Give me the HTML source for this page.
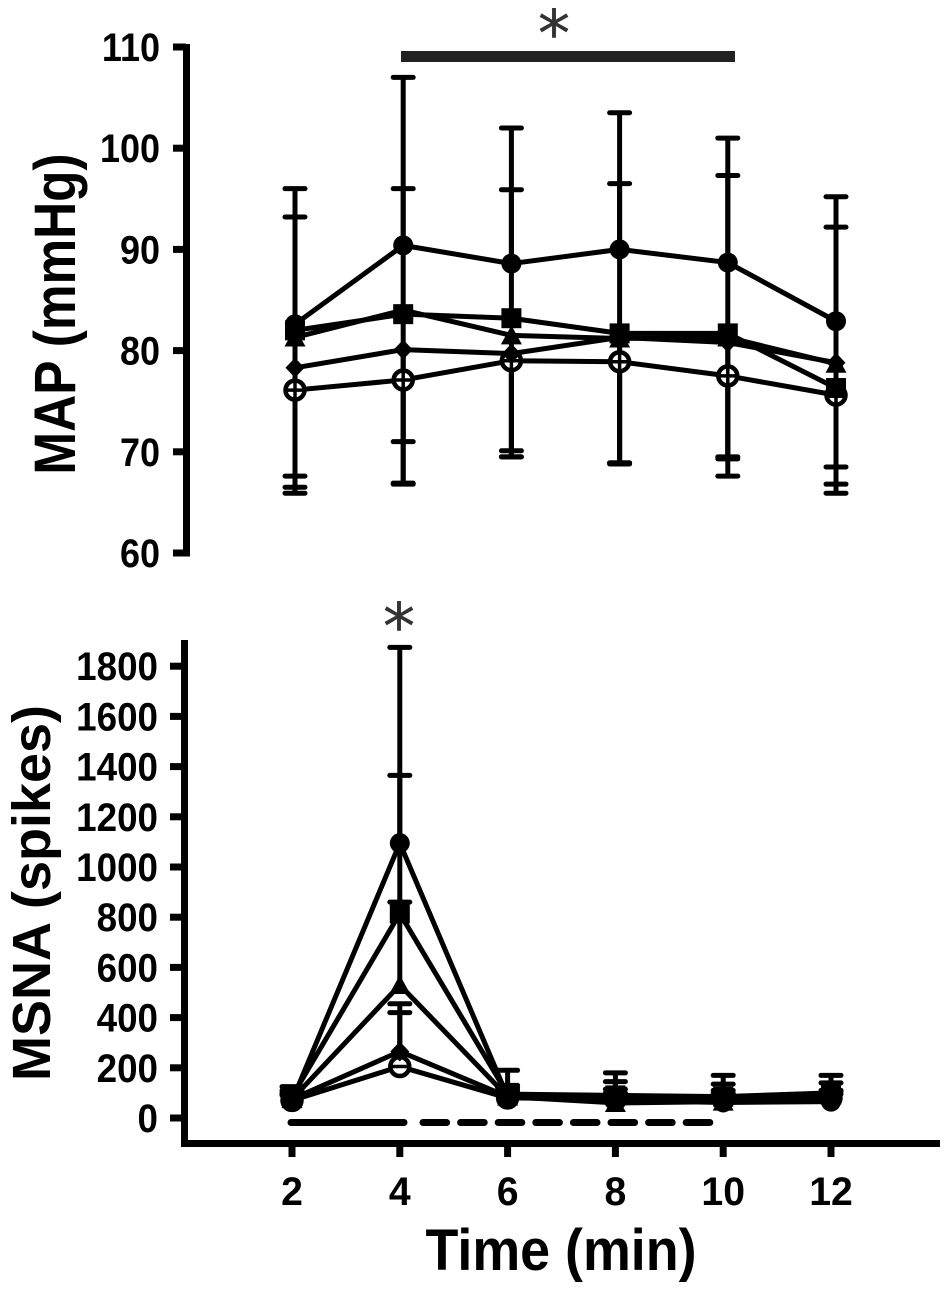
<!DOCTYPE html>
<html lang="en">
<head>
<meta charset="utf-8">
<title>MAP and MSNA over time</title>
<style>
html,body{margin:0;padding:0;background:#fff;}
svg{display:block;font-family:"Liberation Sans",Arial,sans-serif;font-weight:bold;}
</style>
</head>
<body>
<svg id="chart" width="950" height="1294" viewBox="0 0 950 1294" xmlns="http://www.w3.org/2000/svg">
  <rect width="950" height="1294" fill="#fff"/>
  <text transform="translate(75,314) rotate(-90) scale(0.885,1)" text-anchor="middle" font-size="58">MAP (mmHg)</text>
  <text transform="translate(50,893) rotate(-90)" text-anchor="middle" font-size="54">MSNA (spikes)</text>
  <text transform="translate(561,1270) scale(0.928,1)" text-anchor="middle" font-size="58">Time (min)</text>
  <rect x="401" y="51" width="334" height="11" fill="#222"/>
  <text x="554" y="56" text-anchor="middle" font-size="64" font-weight="normal" fill="#333" stroke="#333" stroke-width="0.4" style="font-family:'DejaVu Sans',sans-serif">*</text>
  <text x="399" y="649" text-anchor="middle" font-size="64" font-weight="normal" fill="#333" stroke="#333" stroke-width="0.4" style="font-family:'DejaVu Sans',sans-serif">*</text>
  <line x1="291" y1="1122.5" x2="404" y2="1122.5" stroke="#000" stroke-width="7" stroke-linecap="round"/>
  <line x1="423" y1="1122.5" x2="710" y2="1122.5" stroke="#000" stroke-width="7" stroke-linecap="round" stroke-dasharray="23.6 14"/>
  <g id="plot"></g>
</svg>
<script>
var times = [2, 4, 6, 8, 10, 12];
var mapTicks = [60, 70, 80, 90, 100, 110];
var msnaTicks = [0, 200, 400, 600, 800, 1000, 1200, 1400, 1600, 1800];

var mapCircle = [82.6, 90.4, 88.6, 90.0, 88.7, 82.9];
var mapSquare = [82.0, 83.6, 83.2, 81.7, 81.7, 76.3];
var mapTriangle = [81.3, 84.0, 81.5, 81.2, 81.3, 78.7];
var mapDiamond = [78.3, 80.1, 79.7, 81.3, 80.8, 78.8];
var mapOpen = [76.1, 77.1, 79.0, 78.9, 77.5, 75.6];

var mapCircleUpper = [96.0, 107.0, 102.0, 103.5, 101.0, 95.2];
var mapSquareUpper = [93.2, 96.0, 95.9, 96.5, 97.3, 92.2];
var mapDiamondLower = [67.6, 71.0, 70.1, 68.9, 69.5, 68.5];
var mapTriangleLower = [66.5, 66.9, 69.5, 68.9, 69.3, 66.8];
var mapOpenLower = [65.9, 66.8, 69.5, 68.8, 67.6, 65.9];

var msnaCircle = [68, 1095, 85, 70, 62, 65];
var msnaSquare = [85, 815, 95, 90, 85, 100];
var msnaTriangle = [75, 530, 85, 60, 65, 90];
var msnaDiamond = [75, 265, 85, 70, 70, 90];
var msnaOpen = [70, 205, 80, 75, 75, 80];

var msnaCircleUpper = [125, 1875, 190, 180, 170, 170];
var msnaSquareUpper = [110, 1365, 130, 145, 135, 140];
var msnaTriangleUpper = [100, 860, 120, 115, 110, 110];
var msnaDiamondUpper = [95, 455, 110, 100, 100, 105];
var msnaOpenUpper = [90, 420, 100, 95, 95, 95];

var SVGNS = 'http://www.w3.org/2000/svg';
var plot = document.getElementById('plot');

function xMap(t) { return 295 + (t - 2) * 54.1; }
function xMsna(t) { return 292 + (t - 2) * 53.9; }
function yMap(v) { return 553 - (v - 60) * 10.12; }
function yMsna(v) { return 1118 - v * 0.251; }

function make(tag, attrs) {
  var el = document.createElementNS(SVGNS, tag);
  for (var k in attrs) { el.setAttribute(k, attrs[k]); }
  plot.appendChild(el);
  return el;
}

function errorBar(x, from, to) {
  var stem = make('line', {x1: x, y1: from, x2: x, y2: to, stroke: '#000', 'stroke-width': 5});
  
  
  var cap = make('line', {x1: x - 10, y1: to, x2: x + 10, y2: to, stroke: '#000', 'stroke-width': 5, 'stroke-linecap': 'round'});
  
  
}

function seriesLine(values, xFn, yFn) {
  var pts = values.map(function (v, i) { return xFn(times[i]) + ',' + yFn(v); }).join(' ');
  var line = make('polyline', {points: pts, fill: 'none', stroke: '#000', 'stroke-width': 5, 'stroke-linejoin': 'round'});
  
  
}

function marker(kind, x, y, fullCross) {
  var el;
  if (kind === 'circle') {
    el = make('circle', {cx: x, cy: y, r: 10, fill: '#000'});
  } else if (kind === 'square') {
    el = make('rect', {x: x - 10, y: y - 10, width: 20, height: 20, fill: '#000'});
  } else if (kind === 'triangle') {
    el = make('polygon', {points: x + ',' + (y - 10) + ' ' + (x + 10.5) + ',' + (y + 9) + ' ' + (x - 10.5) + ',' + (y + 9), fill: '#000'});
  } else if (kind === 'diamond') {
    el = make('polygon', {points: x + ',' + (y - 10) + ' ' + (x + 9.5) + ',' + y + ' ' + x + ',' + (y + 10) + ' ' + (x - 9.5) + ',' + y, fill: '#000'});
  } else {
    el = make('circle', {cx: x, cy: y, r: 9.5, fill: '#fff', stroke: '#000', 'stroke-width': 4.5});
    var d = 'M' + (x - 9) + ' ' + y + 'H' + (x + 9);
    if (fullCross) { d += 'M' + x + ' ' + (y - 9) + 'V' + (y + 9); }
    var cross = make('path', {d: d, stroke: '#000', 'stroke-width': 3.5});
    
    
  }
  
  
}

function drawSeries(kind, values, xFn, yFn, fullCross) {
  seriesLine(values, xFn, yFn);
  values.forEach(function (v, i) { marker(kind, xFn(times[i]), yFn(v), fullCross); });
}

function drawErrors(values, limits, xFn, yFn) {
  values.forEach(function (v, i) { errorBar(xFn(times[i]), yFn(v), yFn(limits[i])); });
}

function axisLine(name, x1, y1, x2, y2) {
  var el = make('line', {x1: x1, y1: y1, x2: x2, y2: y2, stroke: '#000', 'stroke-width': 7});
  
  
}

function tickLabel(name, x, y, anchor, label, widthScale) {
  var el = make('text', {transform: 'translate(' + x + ',' + y + ') scale(' + widthScale + ',1)', 'text-anchor': anchor, 'font-size': 40});
  el.textContent = label;
  
  
}

/* MAP panel axes */
axisLine('map-y-axis', 186.5, 44, 186.5, 556.5);
mapTicks.forEach(function (v) {
  axisLine('map-y-tick', 173, yMap(v), 186, yMap(v));
  tickLabel('map-y-tick-label', 160, yMap(v) + 14, 'end', String(v), 0.9);
});

/* MSNA panel axes */
axisLine('msna-y-axis', 184.5, 640, 184.5, 1147);
axisLine('x-axis', 181, 1143.5, 940, 1143.5);
msnaTicks.forEach(function (v) {
  axisLine('msna-y-tick', 170, yMsna(v), 184, yMsna(v));
  tickLabel('msna-y-tick-label', 158, yMsna(v) + 14, 'end', String(v), 0.92);
});
times.forEach(function (t) {
  axisLine('x-tick', xMsna(t), 1143, xMsna(t), 1157);
  tickLabel('x-tick-label', xMsna(t), 1205, 'middle', String(t), 0.98);
});

/* MAP panel data */
drawErrors(mapCircle, mapCircleUpper, xMap, yMap);
drawErrors(mapSquare, mapSquareUpper, xMap, yMap);
drawErrors(mapDiamond, mapDiamondLower, xMap, yMap);
drawErrors(mapTriangle, mapTriangleLower, xMap, yMap);
drawErrors(mapOpen, mapOpenLower, xMap, yMap);
drawSeries('open', mapOpen, xMap, yMap, true);
drawSeries('diamond', mapDiamond, xMap, yMap, true);
drawSeries('triangle', mapTriangle, xMap, yMap, true);
drawSeries('square', mapSquare, xMap, yMap, true);
drawSeries('circle', mapCircle, xMap, yMap, true);

/* MSNA panel data */
drawErrors(msnaCircle, msnaCircleUpper, xMsna, yMsna);
drawErrors(msnaSquare, msnaSquareUpper, xMsna, yMsna);
drawErrors(msnaTriangle, msnaTriangleUpper, xMsna, yMsna);
drawErrors(msnaDiamond, msnaDiamondUpper, xMsna, yMsna);
drawErrors(msnaOpen, msnaOpenUpper, xMsna, yMsna);
drawSeries('open', msnaOpen, xMsna, yMsna, false);
drawSeries('diamond', msnaDiamond, xMsna, yMsna, false);
drawSeries('triangle', msnaTriangle, xMsna, yMsna, false);
drawSeries('square', msnaSquare, xMsna, yMsna, false);
drawSeries('circle', msnaCircle, xMsna, yMsna, false);
</script>
</body>
</html>
